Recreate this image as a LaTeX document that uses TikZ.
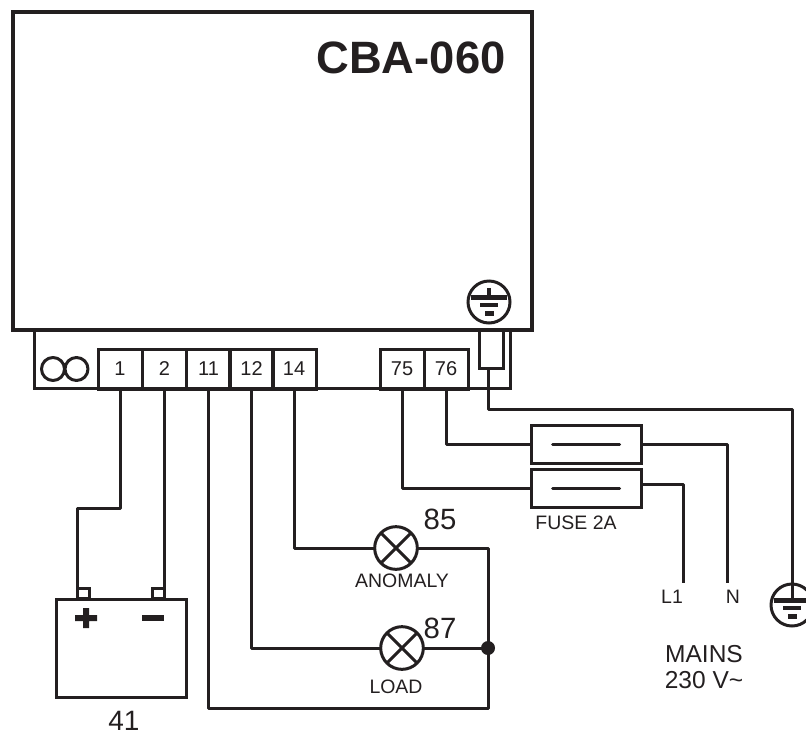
\documentclass[tikz,border=0pt]{standalone}
\usepackage{fontspec}
\setmainfont{Liberation Sans}
\usetikzlibrary{calc}
\usetikzlibrary{positioning}
\definecolor{ink}{RGB}{35, 31, 32}
\tikzset{
  casing/.style={draw=ink, line width=3pt, minimum width=389pt, minimum height=238.5pt, outer sep=0pt, inner sep=0pt},
  strip/.style={draw=ink, line width=2.25pt, minimum width=357pt, minimum height=44pt, outer sep=0pt},
  terminal/.style={draw=ink, line width=2.25pt, minimum width=33pt, minimum height=30pt, outer sep=0pt, inner sep=0pt, text=ink, font=\fontsize{15}{15}\selectfont},
  wire/.style={draw=ink, line width=2.25pt, line join=round},
  lamp/.style={draw=ink, line width=2.25pt, circle, minimum size=32pt, outer sep=0pt, inner sep=0pt},
  fuse/.style={draw=ink, line width=2.25pt, minimum width=82pt, minimum height=29pt, outer sep=0pt},
  label/.style={text=ink, inner sep=0pt, font=\fontsize{14.6}{14.6}\selectfont},
  biglabel/.style={text=ink, inner sep=0pt, font=\fontsize{22}{22}\selectfont},
  mainslabel/.style={text=ink, inner sep=0pt, font=\fontsize{18.4}{18.4}\selectfont},
  earth/.pic={
    \draw[draw=ink, line width=2.25pt] (0,0) circle (21);
    \fill[ink] (-18,-7) rectangle (18,-2);
    \fill[ink] (-9,1) rectangle (9,5);
    \fill[ink] (-4.5,9) rectangle (4.5,14);
  }
}
\begin{document}
\begin{tikzpicture}[x=0.75pt, y=-0.75pt]
  \useasboundingbox (0,0) rectangle (806,736);
  % housing
  \node[strip] (block) at (272,359.5) {};
  \node[casing] (main) at (272.5,171) {};
  \node[text=ink, inner sep=0pt, font=\fontsize{34}{34}\selectfont\bfseries] (title) at (411,57.5) {CBA-060};
  % terminals
  \node[terminal] (t1)  at (120,369) {1};
  \node[terminal] (t2)  at (164.5,369) {2};
  \node[terminal] (t11) at (208.5,369) {11};
  \node[terminal] (t12) at (251.5,369) {12};
  \node[terminal] (t14) at (294,369) {14};
  \node[terminal] (t75) at (402,369) {75};
  \node[terminal] (t76) at (446,369) {76};
  \draw[wire] (53,369) circle (11.5) (76.5,369) circle (11.5);
  % earth clamp
  \node[draw=ink, line width=2.25pt, minimum width=18pt, minimum height=28.5pt, outer sep=0pt] (clamp) at (491,349) {};
  \pic at (489,302) {earth};
  \draw[ink, line width=3.5pt] (489,288) -- (489,300);
  % battery
  \node[draw=ink, line width=2.25pt, minimum width=97.5pt, minimum height=74pt, outer sep=0pt] (battery) at (121,648.5) {};
  \node[draw=ink, line width=2.25pt, minimum width=9pt, minimum height=8pt, outer sep=0pt] (posa) at (83,593.5) {};
  \node[draw=ink, line width=2.25pt, minimum width=9pt, minimum height=8pt, outer sep=0pt] (posb) at (158,593.5) {};
  \fill[ink] (75,615) rectangle (97,621) (83,608) rectangle (89,628);
  \fill[ink] (142,615) rectangle (164,621);
  \node[text=ink, inner sep=0pt, font=\fontsize{21}{21}\selectfont] (cap) at (124,721) {41};
  \draw[wire] (t1.south) -- ++(0,119) -| (posa.north west);
  \draw[wire] (t2.south) -- (t2.south |- posb.north east);
  % lamps
  \node[lamp] (anomaly) at (396,548) {};
  \node[lamp] (load) at (402,648) {};
  \draw[wire] (anomaly.45) -- (anomaly.225) (anomaly.135) -- (anomaly.315);
  \draw[wire] (load.45) -- (load.225) (load.135) -- (load.315);
  \node[biglabel] (n85) at (440,519) {85};
  \node[biglabel] (n87) at (440,628) {87};
  \node[label] (lanomaly) at (402,581) {ANOMALY};
  \node[label] (lload) at (396,687) {LOAD};
  \node[circle, fill=ink, minimum size=10.5pt, inner sep=0pt] (dot) at (488,648) {};
  \coordinate (bendb) at (488,708);
  \draw[wire] (t14.south) |- (anomaly.west);
  \draw[wire] (t12.south) |- (load.west);
  \draw[wire] (anomaly.east) -| (dot.center);
  \draw[wire] (load.east) -- (dot.center);
  \draw[wire] (t11.south) |- (bendb) -- (dot.center);
  % fuses
  \node[fuse] (fusea) at (586.5,444.5) {};
  \node[fuse] (fuseb) at (586.5,488.5) {};
  \draw[wire, line cap=round] ($(fusea.center)+(-34,0)$) -- ($(fusea.center)+(33,0)$);
  \draw[wire, line cap=round] ($(fuseb.center)+(-34,0)$) -- ($(fuseb.center)+(33,0)$);
  \node[label] (lfuse) at (576,523) {FUSE 2A};
  \node[label] (ll1) at (672,597) {L1};
  \node[label] (ln) at (733,597) {N};
  \coordinate (endn) at (727,583);
  \coordinate (endl) at (683,583);
  \draw[wire] (t76.south) |- (fusea.west);
  \draw[wire] (t75.south) |- (fuseb.west);
  \draw[wire] (fusea.east) -| (endn);
  \draw[wire] ($(fuseb.east)+(0,-4)$) -| (endl);
  % mains and earth
  \node[mainslabel] (lmains) at (704,654) {MAINS};
  \node[mainslabel] (lvolt) at (704,680) {230 V\char`~};
  \pic at (792,605) {earth};
  \coordinate (endpe) at (792,600);
  \draw[wire] (clamp.south -| 488,0) -- (488,409) -| (endpe);
\end{tikzpicture}
\end{document}
